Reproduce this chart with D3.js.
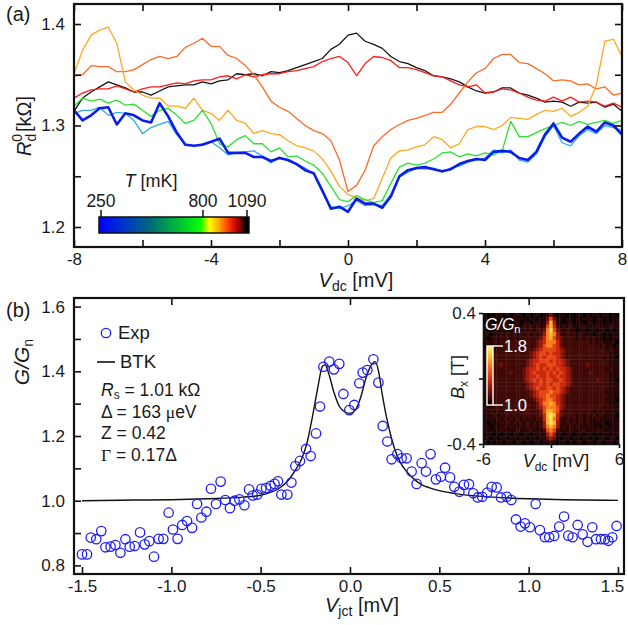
<!DOCTYPE html>
<html>
<head>
<meta charset="utf-8">
<script src="https://cdn.jsdelivr.net/npm/d3@7"></script>
<style>
  body { margin: 0; background: #fff; }
  svg text { font-family: "Liberation Sans", Arial, Helvetica, sans-serif; fill: #1a1a1a; }
</style>
</head>
<body>
<svg id="chart" width="628" height="625"></svg>
<script>
// ---------------- data: panel (a) zero-bias differential resistance ----------------
const vdc = [-8, -7.75, -7.5, -7.25, -7, -6.75, -6.5, -6.25, -6, -5.75, -5.5, -5.25, -5, -4.75, -4.5, -4.25,
  -4, -3.75, -3.5, -3.25, -3, -2.75, -2.5, -2.25, -2, -1.75, -1.5, -1.25, -1, -0.75, -0.5, -0.25,
  0, 0.25, 0.5, 0.75, 1, 1.25, 1.5, 1.75, 2, 2.25, 2.5, 2.75, 3, 3.25, 3.5, 3.75,
  4, 4.25, 4.5, 4.75, 5, 5.25, 5.5, 5.75, 6, 6.25, 6.5, 6.75, 7, 7.25, 7.5, 7.75, 8];

const rd250 = [1.315, 1.305, 1.310, 1.317, 1.318, 1.301, 1.312, 1.310, 1.305, 1.303, 1.322, 1.309, 1.293, 1.281, 1.280, 1.281,
  1.284, 1.287, 1.273, 1.273, 1.273, 1.269, 1.269, 1.265, 1.268, 1.266, 1.262, 1.256, 1.253, 1.236, 1.218, 1.220,
  1.215, 1.228, 1.223, 1.223, 1.219, 1.230, 1.250, 1.256, 1.258, 1.259, 1.257, 1.255, 1.257, 1.262, 1.265, 1.267,
  1.266, 1.274, 1.275, 1.274, 1.268, 1.266, 1.274, 1.291, 1.302, 1.288, 1.284, 1.292, 1.299, 1.294, 1.303, 1.300, 1.291];

const rd450 = [1.312, 1.315, 1.315, 1.318, 1.310, 1.313, 1.312, 1.305, 1.292, 1.298, 1.301, 1.304, 1.291, 1.282, 1.280, 1.282,
  1.284, 1.278, 1.271, 1.273, 1.274, 1.275, 1.270, 1.263, 1.269, 1.265, 1.262, 1.258, 1.252, 1.234, 1.220, 1.218,
  1.221, 1.226, 1.221, 1.222, 1.221, 1.232, 1.249, 1.254, 1.258, 1.257, 1.258, 1.254, 1.258, 1.260, 1.264, 1.266,
  1.268, 1.276, 1.273, 1.276, 1.266, 1.264, 1.272, 1.289, 1.300, 1.283, 1.280, 1.290, 1.296, 1.292, 1.300, 1.298, 1.295];

const rd700 = [1.319, 1.327, 1.324, 1.326, 1.322, 1.325, 1.320, 1.321, 1.315, 1.309, 1.315, 1.317, 1.310, 1.302, 1.305, 1.315,
  1.302, 1.282, 1.279, 1.286, 1.290, 1.282, 1.282, 1.274, 1.278, 1.269, 1.270, 1.265, 1.261, 1.253, 1.240, 1.227,
  1.225, 1.231, 1.227, 1.224, 1.226, 1.243, 1.259, 1.263, 1.261, 1.263, 1.267, 1.273, 1.274, 1.269, 1.272, 1.270,
  1.273, 1.271, 1.275, 1.304, 1.289, 1.289, 1.293, 1.297, 1.300, 1.303, 1.300, 1.304, 1.301, 1.303, 1.305, 1.302, 1.305];

const rd900 = [1.351, 1.374, 1.389, 1.394, 1.397, 1.381, 1.343, 1.335, 1.330, 1.327, 1.327, 1.319, 1.319, 1.317, 1.327, 1.315,
  1.312, 1.305, 1.315, 1.305, 1.302, 1.292, 1.295, 1.292, 1.291, 1.285, 1.280, 1.278, 1.275, 1.267, 1.255, 1.240,
  1.232, 1.229, 1.226, 1.228, 1.248, 1.268, 1.275, 1.276, 1.279, 1.281, 1.289, 1.286, 1.278, 1.282, 1.296, 1.299,
  1.299, 1.296, 1.300, 1.308, 1.307, 1.306, 1.311, 1.315, 1.314, 1.317, 1.309, 1.313, 1.319, 1.340, 1.383, 1.385, 1.368];

const rd960 = [1.349, 1.350, 1.359, 1.358, 1.358, 1.353, 1.353, 1.355, 1.360, 1.365, 1.368, 1.366, 1.368, 1.377, 1.381, 1.386,
  1.378, 1.378, 1.369, 1.366, 1.359, 1.350, 1.338, 1.324, 1.318, 1.314, 1.307, 1.300, 1.295, 1.292, 1.285, 1.266,
  1.235, 1.241, 1.256, 1.280, 1.289, 1.296, 1.301, 1.305, 1.307, 1.310, 1.313, 1.313, 1.321, 1.332, 1.343, 1.352,
  1.356, 1.366, 1.370, 1.370, 1.362, 1.361, 1.356, 1.351, 1.344, 1.345, 1.344, 1.340, 1.341, 1.336, 1.338, 1.330, 1.332];

const rd1030 = [1.327, 1.332, 1.335, 1.336, 1.336, 1.339, 1.336, 1.333, 1.336, 1.338, 1.338, 1.340, 1.342, 1.341, 1.344, 1.345,
  1.345, 1.348, 1.349, 1.346, 1.350, 1.348, 1.350, 1.351, 1.351, 1.353, 1.354, 1.356, 1.358, 1.363, 1.366, 1.368,
  1.362, 1.349, 1.361, 1.368, 1.367, 1.364, 1.357, 1.357, 1.355, 1.352, 1.349, 1.348, 1.344, 1.340, 1.338, 1.340,
  1.332, 1.333, 1.336, 1.335, 1.332, 1.328, 1.325, 1.324, 1.328, 1.324, 1.328, 1.323, 1.324, 1.323, 1.319, 1.322, 1.318];

const rd1090 = [1.314, 1.327, 1.333, 1.338, 1.343, 1.340, 1.337, 1.333, 1.333, 1.330, 1.334, 1.338, 1.339, 1.340, 1.340, 1.343,
  1.341, 1.344, 1.345, 1.351, 1.350, 1.351, 1.349, 1.353, 1.352, 1.354, 1.357, 1.360, 1.363, 1.366, 1.375, 1.380,
  1.389, 1.391, 1.383, 1.380, 1.376, 1.368, 1.363, 1.361, 1.357, 1.354, 1.349, 1.348, 1.346, 1.343, 1.338, 1.334,
  1.332, 1.333, 1.337, 1.337, 1.332, 1.330, 1.327, 1.323, 1.324, 1.323, 1.319, 1.323, 1.322, 1.323, 1.318, 1.321, 1.314];

// drawn back to front; the coldest trace ends up on top
const traces = [
  { values: rd1090, color: "#151515", width: 1.3 },
  { values: rd1030, color: "#ff1c1c", width: 1.3 },
  { values: rd960,  color: "#ff6a26", width: 1.3 },
  { values: rd900,  color: "#ffa722", width: 1.3 },
  { values: rd700,  color: "#2ee02e", width: 1.3 },
  { values: rd450,  color: "#2eaaf2", width: 1.3 },
  { values: rd250,  color: "#0a1ee8", width: 2.6 }
];

const xTicksA = [-8, -6, -4, -2, 0, 2, 4, 6, 8];
const yTicksA = [1.2, 1.25, 1.3, 1.35, 1.4];
const tempTicks = [250, 800, 1090];

// ---------------- data: panel (b) normalized junction conductance ----------------
const vjct = [-1.500, -1.472, -1.451, -1.420, -1.392, -1.369, -1.340, -1.313, -1.285, -1.257, -1.233, -1.205,
  -1.175, -1.149, -1.123, -1.097, -1.071, -1.045, -1.015, -0.991, -0.965, -0.939, -0.912, -0.884,
  -0.856, -0.832, -0.804, -0.778, -0.750, -0.724, -0.698, -0.672, -0.646, -0.619, -0.591, -0.565,
  -0.545, -0.519, -0.496, -0.470, -0.444, -0.422, -0.403, -0.384, -0.351, -0.328, -0.306, -0.280,
  -0.246, -0.220, -0.190, -0.168, -0.149, -0.116, -0.090, -0.060, -0.037, -0.004, 0.024, 0.052,
  0.071, 0.097, 0.131, 0.159, 0.183, 0.209, 0.233, 0.265, 0.289, 0.317, 0.345, 0.373,
  0.401, 0.425, 0.451, 0.481, 0.509, 0.532, 0.560, 0.584, 0.612, 0.638, 0.666, 0.690,
  0.715, 0.740, 0.768, 0.793, 0.821, 0.845, 0.877, 0.903, 0.929, 0.955, 0.979, 1.007,
  1.039, 1.063, 1.091, 1.115, 1.143, 1.171, 1.198, 1.222, 1.246, 1.274, 1.302, 1.330,
  1.356, 1.377, 1.405, 1.427, 1.446, 1.468, 1.492];
const gExp = [0.834, 0.834, 0.886, 0.881, 0.906, 0.856, 0.858, 0.863, 0.839, 0.881, 0.858, 0.860,
  0.902, 0.865, 0.875, 0.827, 0.882, 0.882, 0.963, 0.911, 0.882, 0.925, 0.937, 0.916,
  0.990, 0.948, 0.966, 1.037, 0.990, 1.059, 1.002, 0.977, 1.000, 1.004, 0.986, 1.035,
  1.016, 1.019, 1.037, 1.039, 1.046, 1.052, 1.060, 1.019, 1.019, 1.056, 1.107, 1.123,
  1.160, 1.138, 1.208, 1.291, 1.414, 1.430, 1.406, 1.423, 1.330, 1.280, 1.296, 1.363,
  1.396, 1.404, 1.437, 1.365, 1.231, 1.183, 1.128, 1.144, 1.131, 1.131, 1.090, 1.052,
  1.116, 1.090, 1.144, 1.066, 1.074, 1.102, 1.072, 1.043, 1.028, 1.049, 1.051, 1.023,
  1.010, 1.012, 1.025, 1.043, 1.041, 1.010, 1.012, 1.002, 0.942, 0.920, 0.930, 0.918,
  0.990, 0.909, 0.887, 0.887, 0.891, 0.920, 0.951, 0.892, 0.887, 0.925, 0.896, 0.873,
  0.918, 0.881, 0.881, 0.881, 0.876, 0.887, 0.922];

const vBtk = [-1.5, -1.2, -1.0, -0.8, -0.6, -0.5, -0.45, -0.4, -0.35, -0.3, -0.27, -0.24, -0.21, -0.18,
  -0.155, -0.14, -0.12, -0.09, -0.06, -0.03, 0, 0.03, 0.06, 0.09, 0.12, 0.14, 0.16, 0.18,
  0.2, 0.22, 0.25, 0.28, 0.32, 0.36, 0.4, 0.45, 0.5, 0.6, 0.7, 0.8, 1.0, 1.2, 1.5];
const gBtk = [1.000, 1.002, 1.003, 1.006, 1.011, 1.017, 1.025, 1.037, 1.060, 1.100, 1.130, 1.180, 1.260, 1.350,
  1.415, 1.420, 1.395, 1.335, 1.292, 1.275, 1.270, 1.280, 1.320, 1.380, 1.420, 1.430, 1.400, 1.330,
  1.270, 1.220, 1.160, 1.120, 1.088, 1.066, 1.050, 1.039, 1.031, 1.021, 1.015, 1.011, 1.006, 1.003, 1.001];

const xTicksB = [-1.5, -1.0, -0.5, 0, 0.5, 1.0, 1.5];
const xTopTicksB = [-1.0, 0, 1.0];
const yTicksB = [0.8, 0.9, 1.0, 1.1, 1.2, 1.3, 1.4, 1.5, 1.6];

const fitParams = [
  { sym: "R", sub: "s", text: " = 1.01 kΩ" },
  { sym: "Δ", text: " = 163 ", mu: "μ", tail: "eV" },
  { sym: "Z", text: " = 0.42" },
  { sym: "Γ", text: " = 0.17Δ" }
];

// ---------------- data: inset map of G/Gn vs Vdc and Bx ----------------
// level codes 0..9 per cell; rows run from Bx = +0.4 T (top) to -0.4 T (bottom)
const levelG = [1.00, 1.05, 1.10, 1.17, 1.25, 1.33, 1.42, 1.54, 1.65, 1.76];
const mapRows = [
  "10101101011101011011310110101101011011010",
  "11010110110110110113631101101011101101011",
  "01101011011011011114841101101101101101011",
  "11112111121121212126852121211121112111211",
  "10110110110121212237963212110110110110101",
  "11011212121212121247874212121211101101011",
  "10121212121222222357864322221212121101011",
  "11121222222222223457775322222222121211110",
  "01121222222222223467765322222222222121101",
  "11212222222222234566665432222222222221211",
  "11222222222222345665655432222222222222111",
  "11122222222222345656665432222222222212110",
  "11222222222223455666565543222222222222111",
  "11222322222223456556665543222223222222111",
  "12122222222234556565656554322222222221211",
  "11222222322234565556565654322222322222111",
  "11222222222234556556556554322222222222111",
  "11122222222234565656655654322222223222110",
  "11222222222223455656566554322222222222111",
  "11222222222223456556656543222222222222111",
  "11122222222222345666766543222222222221111",
  "11222222222222345667665432222222222222111",
  "11122222222222234567765432222222222221110",
  "11222222222222223577875432222222222222111",
  "11122222222222223467776432222222222212111",
  "11212122222222222368876322222222212121111",
  "11121212121222222358985322221212121211110",
  "11112121212121212258975212121212112111111",
  "10111212121212121248984212121212111110111",
  "11011121211212121247874121212111111011011",
  "11111211112111211126762111211121112111111",
  "01101011011011011114641101101101101011011",
  "11010110110110110113431011011011010110110",
  "10101101101101011011210110101101101101101"
];

// ---------------- drawing ----------------
const svg = d3.select("#chart");
const defs = svg.append("defs");

function styleAxis(g, fontSize) {
  g.select(".domain").remove();
  g.selectAll(".tick line").attr("stroke", "#111").attr("stroke-width", 1.6);
  g.selectAll(".tick text").attr("font-size", fontSize).attr("fill", "#1a1a1a")
    .attr("font-family", "'Liberation Sans', Arial, sans-serif");
}

// ======== panel (a) ========
const A = { x0: 74, x1: 622, y0: 4, y1: 247 };
const xA = d3.scaleLinear().domain([-8, 8]).range([74, 622]);
const yA = d3.scaleLinear().domain([1.2, 1.4]).range([227, 24]);

defs.append("clipPath").attr("id", "clipA").append("rect")
  .attr("x", A.x0).attr("y", A.y0).attr("width", A.x1 - A.x0).attr("height", A.y1 - A.y0);

const lineA = vals => d3.line().x((d, i) => xA(vdc[i])).y(d => yA(d))(vals);
const gA = svg.append("g").attr("clip-path", "url(#clipA)");
traces.forEach(t => {
  gA.append("path").attr("d", lineA(t.values)).attr("fill", "none")
    .attr("stroke", t.color).attr("stroke-width", t.width)
    .attr("stroke-linejoin", "round").attr("stroke-linecap", "round");
});

// axes of (a): ticks point inward on all four sides
svg.append("g").attr("transform", `translate(0,${A.y1})`)
  .call(d3.axisBottom(xA).tickValues(xTicksA).tickSize(-7).tickPadding(6)
    .tickFormat(d => (d % 4 === 0 ? String(d) : "")))
  .call(g => styleAxis(g, 17));
svg.append("g").attr("transform", `translate(0,${A.y0})`)
  .call(d3.axisTop(xA).tickValues(xTicksA).tickSize(-7).tickFormat(""))
  .call(g => styleAxis(g, 17));
svg.append("g").attr("transform", `translate(${A.x0},0)`)
  .call(d3.axisLeft(yA).tickValues(yTicksA).tickSize(-7).tickPadding(9)
    .tickFormat(d => (Math.abs(d * 10 - Math.round(d * 10)) < 1e-6 ? d.toFixed(1) : "")))
  .call(g => styleAxis(g, 17));
svg.append("g").attr("transform", `translate(${A.x1},0)`)
  .call(d3.axisRight(yA).tickValues(yTicksA).tickSize(-7).tickFormat(""))
  .call(g => styleAxis(g, 17));
svg.append("rect").attr("x", A.x0).attr("y", A.y0).attr("width", A.x1 - A.x0).attr("height", A.y1 - A.y0)
  .attr("fill", "none").attr("stroke", "#111").attr("stroke-width", 2.2);

svg.append("text").attr("x", 6).attr("y", 21).attr("font-size", 20).text("(a)");

// y title (a)
const tA = svg.append("text").attr("transform", "translate(31,126) rotate(-90)")
  .attr("text-anchor", "middle").attr("font-size", 20);
tA.append("tspan").attr("font-style", "italic").text("R");
tA.append("tspan").attr("font-size", 14).attr("dy", 5).text("d");
tA.append("tspan").attr("font-size", 14).attr("dx", -8).attr("dy", -14).text("0");
tA.append("tspan").attr("dy", 9).attr("dx", 2).text("[kΩ]");

// x title (a)
const xtA = svg.append("text").attr("x", 356).attr("y", 287).attr("text-anchor", "middle").attr("font-size", 20);
xtA.append("tspan").attr("font-style", "italic").text("V");
xtA.append("tspan").attr("font-size", 14).attr("dy", 4).text("dc");
xtA.append("tspan").attr("dy", -4).text(" [mV]");

// temperature colour bar
const tScale = d3.scaleLinear().domain([250, 800, 1090]).range([101, 203, 247]);
const barStops = [
  [0.00, "#0000ff"], [0.18, "#0038c8"], [0.34, "#006a78"], [0.50, "#00b040"],
  [0.62, "#00e818"], [0.68, "#10ff00"], [0.735, "#ffff00"], [0.80, "#ffa800"],
  [0.87, "#ff2a00"], [0.93, "#a00000"], [0.98, "#000000"], [1.00, "#000000"]
];
const gradT = defs.append("linearGradient").attr("id", "gradT");
barStops.forEach(s => gradT.append("stop").attr("offset", s[0]).attr("stop-color", s[1]));
svg.append("rect").attr("x", 99).attr("y", 217).attr("width", 150).attr("height", 16)
  .attr("fill", "url(#gradT)").attr("stroke", "#111").attr("stroke-width", 1.5);
tempTicks.forEach(t => {
  svg.append("line").attr("x1", tScale(t)).attr("x2", tScale(t)).attr("y1", 210).attr("y2", 217)
    .attr("stroke", "#111").attr("stroke-width", 1.5);
  svg.append("text").attr("x", tScale(t)).attr("y", 207).attr("text-anchor", "middle")
    .attr("font-size", 17.5).text(t);
});
const tt = svg.append("text").attr("x", 151).attr("y", 187).attr("text-anchor", "middle").attr("font-size", 18);
tt.append("tspan").attr("font-style", "italic").text("T");
tt.append("tspan").text(" [mK]");

// ======== panel (b) ========
const B = { x0: 74, x1: 624, y0: 298, y1: 574 };
const xB = d3.scaleLinear().domain([-1.5, 1.5]).range([82, 618]);
const yB = d3.scaleLinear().domain([0.8, 1.6]).range([565.4, 306.6]);

defs.append("clipPath").attr("id", "clipB").append("rect")
  .attr("x", B.x0).attr("y", B.y0).attr("width", B.x1 - B.x0).attr("height", B.y1 - B.y0);
const gB = svg.append("g").attr("clip-path", "url(#clipB)");

gB.append("path")
  .attr("d", d3.line().curve(d3.curveMonotoneX).x((d, i) => xB(vBtk[i])).y(d => yB(d))(gBtk))
  .attr("fill", "none").attr("stroke", "#111").attr("stroke-width", 1.4);

gB.selectAll("circle.exp").data(gExp).join("circle").attr("class", "exp")
  .attr("cx", (d, i) => xB(vjct[i])).attr("cy", d => yB(d)).attr("r", 4.7)
  .attr("fill", "none").attr("stroke", "#1e1ef5").attr("stroke-width", 1.3);

const axB = svg.append("g").attr("transform", `translate(0,${B.y1})`)
  .call(d3.axisBottom(xB).tickValues(xTicksB).tickSize(-7).tickPadding(6)
    .tickFormat(d => d.toFixed(1)))
  .call(g => styleAxis(g, 17));
// keep the last label inside the page edge
axB.selectAll(".tick text").filter(d => d === 1.5).attr("dx", -6);
svg.append("g").attr("transform", `translate(0,${B.y0})`)
  .call(d3.axisTop(xB).tickValues(xTopTicksB).tickSize(-7).tickFormat(""))
  .call(g => styleAxis(g, 17));
svg.append("g").attr("transform", `translate(${B.x0},0)`)
  .call(d3.axisLeft(yB).tickValues(yTicksB).tickSize(-7).tickPadding(9)
    .tickFormat(d => (Math.round(d * 10) % 2 === 0 ? d.toFixed(1) : "")))
  .call(g => styleAxis(g, 17));
svg.append("rect").attr("x", B.x0).attr("y", B.y0).attr("width", B.x1 - B.x0).attr("height", B.y1 - B.y0)
  .attr("fill", "none").attr("stroke", "#111").attr("stroke-width", 2.2);

svg.append("text").attr("x", 6).attr("y", 317).attr("font-size", 20).text("(b)");

const ytB = svg.append("text").attr("transform", "translate(29,362) rotate(-90)")
  .attr("text-anchor", "middle").attr("font-size", 21);
ytB.append("tspan").attr("font-style", "italic").text("G/G");
ytB.append("tspan").attr("font-size", 14).attr("dy", 4).text("n");

const xtB = svg.append("text").attr("x", 362).attr("y", 612).attr("text-anchor", "middle").attr("font-size", 20);
xtB.append("tspan").attr("font-style", "italic").text("V");
xtB.append("tspan").attr("font-size", 14).attr("dy", 4).text("jct");
xtB.append("tspan").attr("dy", -4).text(" [mV]");

// legend
svg.append("circle").attr("cx", 106).attr("cy", 333).attr("r", 4.7)
  .attr("fill", "none").attr("stroke", "#1e1ef5").attr("stroke-width", 1.3);
svg.append("text").attr("x", 118).attr("y", 339).attr("font-size", 18.5).text("Exp");
svg.append("line").attr("x1", 97).attr("x2", 115).attr("y1", 362).attr("y2", 362)
  .attr("stroke", "#111").attr("stroke-width", 1.6);
svg.append("text").attr("x", 120).attr("y", 368).attr("font-size", 18.5).text("BTK");

// fit parameters
fitParams.forEach((p, i) => {
  const t = svg.append("text").attr("x", 101).attr("y", 396 + i * 21.5).attr("font-size", 17.5);
  const s = t.append("tspan").text(p.sym);
  if (p.sym === "R") s.attr("font-style", "italic");
  if (p.sym === "Γ") s.attr("font-family", "'Liberation Serif', 'Times New Roman', serif");
  if (p.sub) {
    t.append("tspan").attr("font-size", 12).attr("dy", 3).text(p.sub);
    t.append("tspan").attr("dy", -3).text(p.text);
  } else {
    t.append("tspan").text(p.text);
  }
  if (p.mu) {
    t.append("tspan").attr("font-family", "'Liberation Serif', 'Times New Roman', serif").text(p.mu);
    t.append("tspan").text(p.tail);
  }
});

// ======== inset ========
const I = { x0: 483, x1: 619, y0: 313, y1: 444 };
const nCols = d3.max(mapRows, r => r.length);
const xI = d3.scaleLinear().domain([-6, 6]).range([I.x0, I.x1]);
const yI = d3.scaleLinear().domain([-0.4, 0.4]).range([I.y1, I.y0]);
const colBand = d3.scaleBand().domain(d3.range(nCols)).range([I.x0, I.x1]);
const rowBand = d3.scaleBand().domain(d3.range(mapRows.length)).range([I.y0, I.y1]);
const heat = d3.scaleLinear()
  .domain([1.0, 1.05, 1.12, 1.22, 1.35, 1.5, 1.65, 1.8])
  .range(["#000000", "#260505", "#4c0a07", "#8c1409", "#d42c10", "#f4681a", "#ffb82c", "#fff27a"])
  .clamp(true);

const cells = [];
mapRows.forEach((row, r) => {
  for (let c = 0; c < nCols; c++) {
    const code = c < row.length ? +row[c] : 1;
    cells.push({ r, c, g: levelG[code] });
  }
});
svg.append("g").selectAll("rect").data(cells).join("rect")
  .attr("x", d => colBand(d.c)).attr("y", d => rowBand(d.r))
  .attr("width", colBand.bandwidth() + 0.4).attr("height", rowBand.bandwidth() + 0.4)
  .attr("fill", d => heat(d.g));

const gIL = svg.append("g").attr("transform", `translate(${I.x0},0)`)
  .call(d3.axisLeft(yI).tickValues([-0.4, 0, 0.4]).tickSize(4).tickSizeOuter(0).tickPadding(3)
    .tickFormat(d => (d === 0 ? "" : String(d))));
gIL.select(".domain").attr("stroke", "#111").attr("stroke-width", 1.6);
gIL.selectAll(".tick line").attr("stroke", "#111").attr("stroke-width", 1.6);
gIL.selectAll(".tick text").attr("font-size", 17).attr("fill", "#1a1a1a");

const gIB = svg.append("g").attr("transform", `translate(0,${I.y1})`)
  .call(d3.axisBottom(xI).tickValues([-6, 0, 6]).tickSize(4).tickSizeOuter(0).tickPadding(5)
    .tickFormat(d => (d === 0 ? "" : String(d))));
gIB.select(".domain").attr("stroke", "#111").attr("stroke-width", 1.6);
gIB.selectAll(".tick line").attr("stroke", "#111").attr("stroke-width", 1.6);
gIB.selectAll(".tick text").attr("font-size", 17).attr("fill", "#1a1a1a");

const xtI = svg.append("text").attr("x", 556).attr("y", 467).attr("text-anchor", "middle").attr("font-size", 18);
xtI.append("tspan").attr("font-style", "italic").text("V");
xtI.append("tspan").attr("font-size", 12).attr("dy", 4).text("dc");
xtI.append("tspan").attr("dy", -4).text(" [mV]");

const ytI = svg.append("text").attr("transform", "translate(464,377) rotate(-90)")
  .attr("text-anchor", "middle").attr("font-size", 18);
ytI.append("tspan").attr("font-style", "italic").text("B");
ytI.append("tspan").attr("font-size", 12).attr("dy", 4).text("x");
ytI.append("tspan").attr("dy", -4).text(" [T]");

// inset colour scale
const gradI = defs.append("linearGradient").attr("id", "gradI")
  .attr("x1", 0).attr("y1", 1).attr("x2", 0).attr("y2", 0);
heat.domain().forEach((v, i) => gradI.append("stop")
  .attr("offset", (v - 1.0) / 0.8).attr("stop-color", heat.range()[i]));
const cbY = d3.scaleLinear().domain([1.0, 1.8]).range([405, 346]);
svg.append("rect").attr("x", 487).attr("y", cbY(1.8)).attr("width", 6).attr("height", cbY(1.0) - cbY(1.8))
  .attr("fill", "url(#gradI)").attr("stroke", "#fff").attr("stroke-width", 1.4);
[1.8, 1.0].forEach(v => {
  svg.append("line").attr("x1", 493).attr("x2", 503).attr("y1", cbY(v)).attr("y2", cbY(v))
    .attr("stroke", "#fff").attr("stroke-width", 1.4);
  svg.append("text").attr("x", 504).attr("y", cbY(v) + 6).attr("font-size", 16.5)
    .style("fill", "#fff").text(v.toFixed(1));
});
const gl = svg.append("text").attr("x", 485).attr("y", 330).attr("font-size", 16).style("fill", "#fff");
gl.append("tspan").attr("font-style", "italic").text("G/G");
gl.append("tspan").attr("font-size", 11).attr("dy", 3).text("n");
</script>
</body>
</html>
